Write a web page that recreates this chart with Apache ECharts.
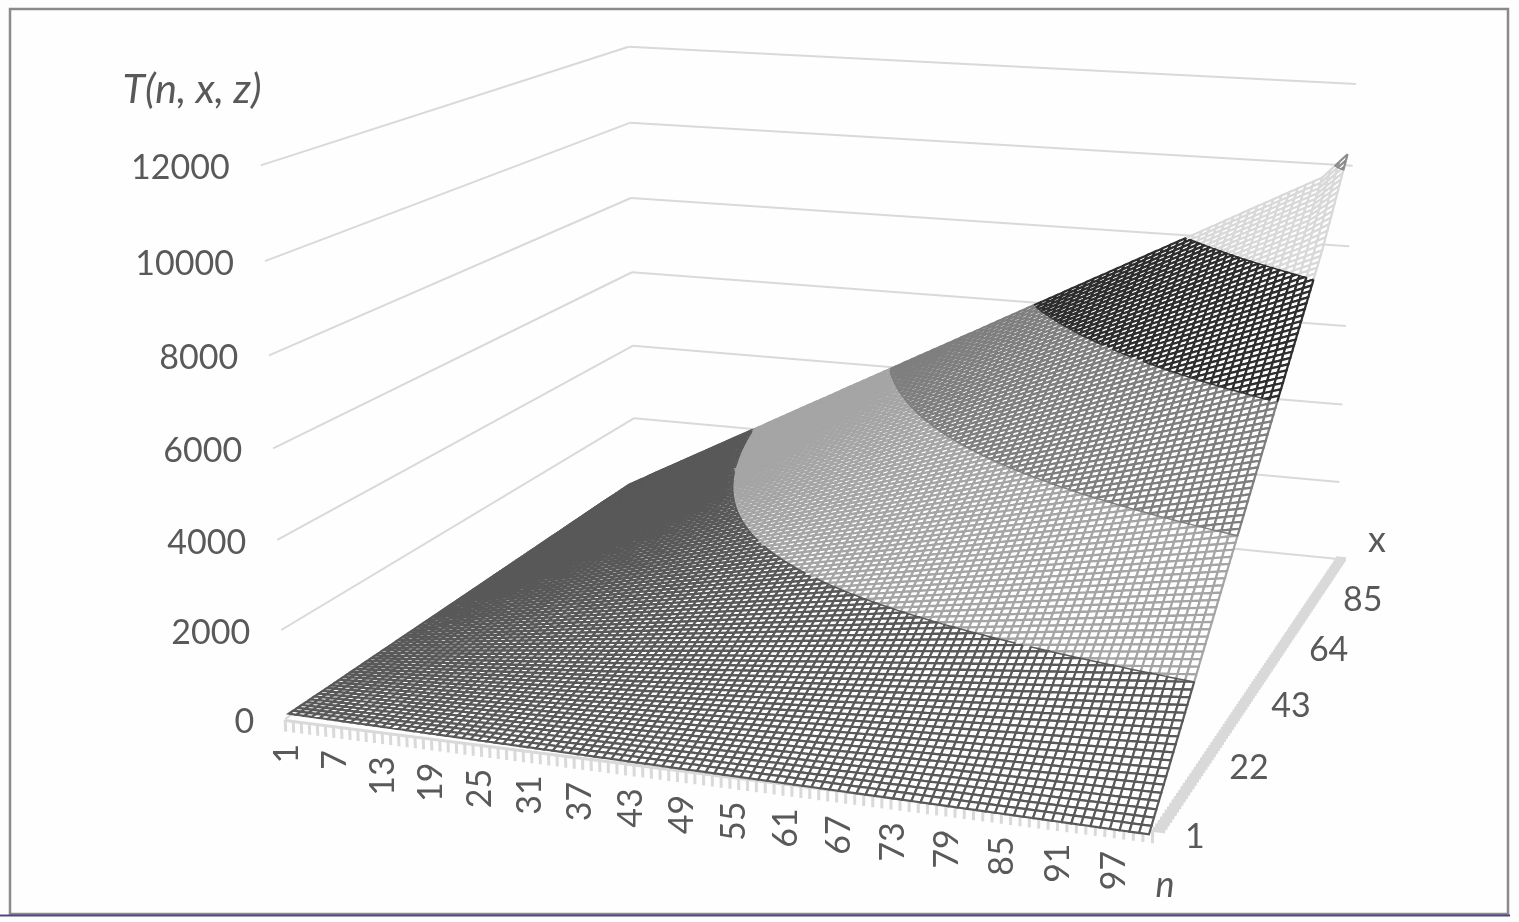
<!DOCTYPE html>
<html><head><meta charset="utf-8">
<style>html,body{margin:0;padding:0;background:#fff}#c{width:1519px;height:922px;filter:blur(.45px)}</style>
<script src="https://cdn.jsdelivr.net/npm/echarts@6/dist/echarts.min.js"></script>
</head><body><div id="c"></div>
<script>
// ---------- data ----------
const nTicks = [1,7,13,19,25,31,37,43,49,55,61,67,73,79,85,91,97,100];
const nLabels = ['1','7','13','19','25','31','37','43','49','55','61','67','73','79','85','91','97'];
const xTicks = [1,22,43,64,85,100];
const xLabels = ['1','22','43','64','85'];
const tTicks = [0,2000,4000,6000,8000,10000,12000];
const tAt1   = [1,7,13,19,25,31,37,43,49,55,61,67,73,79,85,91,97,100];
const tAt22  = [22,154,286,418,550,682,814,946,1078,1210,1342,1474,1606,1738,1870,2002,2134,2200];
const tAt43  = [43,301,559,817,1075,1333,1591,1849,2107,2365,2623,2881,3139,3397,3655,3913,4171,4300];
const tAt64  = [64,448,832,1216,1600,1984,2368,2752,3136,3520,3904,4288,4672,5056,5440,5824,6208,6400];
const tAt85  = [85,595,1105,1615,2125,2635,3145,3655,4165,4675,5185,5695,6205,6715,7225,7735,8245,8500];
const tAt100 = [100,700,1300,1900,2500,3100,3700,4300,4900,5500,6100,6700,7300,7900,8500,9100,9700,10300];
const surfaceRows = [tAt1,tAt22,tAt43,tAt64,tAt85,tAt100];
// ---------- view set-up (camera calibration, styles) ----------
const wallView = [[1,1,12000,258,165],[1,1,10000,266,262],[1,1,6000,275,448],[1,1,2000,281,630],[1,1,0,285,719],
  [1,100,12000,630,47],[1,100,6000,632,272],[1,100,2000,633,418],
  [100,100,12000,1357,84],[100,100,6000,1344,325],[100,100,2000,1337,484],[100,100,0,1339,558],[100,1,0,1153,829]];
const surfaceView = [[1,1,1,287,717],[100,1,100,1152,825],[1,100,100,632,484],[100,100,10300,1352,153],
  [100,20,2000,1192,682],[100,40,4000,1237,547],[100,60,6000,1280,403],[100,80,8000,1312,285],
  [20,100,2000,750,430],[40,100,4000,887,371],[60,100,6000,1030,303],[80,100,8000,1172,237]];
const bandColors = ['#595959','#a5a5a5','#7f7f7f','#2e2e2e','#d9d9d9','#8c8c8c'];
const levelColors = {2000:'#595959',4000:'#7f7f7f',6000:'#3a3a3a',8000:'#2e2e2e',10000:'#8c8c8c'};
const MESH_W = 2.2;
const FONT = 'Lato, "Open Sans", sans-serif';

function fitView(pts){
  const rows=[],rhs=[];
  pts.forEach(p=>{const X=p[0]/100,Y=p[1]/100,Z=p[2]/10000,U=p[3]/1000,V=p[4]/1000;
    rows.push([X,Y,Z,1,0,0,0,0,-U*X,-U*Y,-U*Z]);rhs.push(U);
    rows.push([0,0,0,0,X,Y,Z,1,-V*X,-V*Y,-V*Z]);rhs.push(V);});
  const m=11,A=[];
  for(let i=0;i<m;i++){A.push(new Array(m+1).fill(0));
    for(let j=0;j<m;j++)rows.forEach(r=>A[i][j]+=r[i]*r[j]);
    rows.forEach((r,k)=>A[i][m]+=r[i]*rhs[k]);
    A[i][i]+=1e-9;}
  for(let i=0;i<m;i++){let b=i;for(let k=i+1;k<m;k++)if(Math.abs(A[k][i])>Math.abs(A[b][i]))b=k;
    [A[i],A[b]]=[A[b],A[i]];
    for(let k=0;k<m;k++)if(k!==i){const f=A[k][i]/A[i][i];for(let j=i;j<=m;j++)A[k][j]-=f*A[i][j];}}
  const q=A.map((r,i)=>r[m]/r[i]);
  return (n,x,t)=>{const X=n/100,Y=x/100,Z=t/10000,w=q[8]*X+q[9]*Y+q[10]*Z+1;
    return [1000*(q[0]*X+q[1]*Y+q[2]*Z+q[3])/w,1000*(q[4]*X+q[5]*Y+q[6]*Z+q[7])/w];};
}
const wall=fitView(wallView), surf=fitView(wallView.concat(surfaceView,surfaceView,surfaceView));
const bandOf=t=>Math.min(5,Math.floor(t/2000));

function surfaceItem(params,api){
  const ci=api.value(0),ri=api.value(1);
  const n0=nTicks[ci],n1=nTicks[ci+1],x0=xTicks[ri],x1=xTicks[ri+1];
  const a=surfaceRows[ri][ci],b=surfaceRows[ri][ci+1],c=surfaceRows[ri+1][ci],d=surfaceRows[ri+1][ci+1];
  const sn=n1-n0,sx=x1-x0,kids=[];
  const h=(i,j)=>{const u=i/sn,v=j/sx;return a*(1-u)*(1-v)+b*u*(1-v)+c*(1-u)*v+d*u*v;};
  const P=(i,j)=>api.coord(surf(n0+i,x0+j,h(i,j)));
  for(let j=sx-1;j>=0;j--)for(let i=0;i<sn;i++){
    const corners=[[i,j],[i+1,j],[i+1,j+1],[i,j+1]];
    const ts=corners.map(k=>h(k[0],k[1]));
    const pts=corners.map(k=>P(k[0],k[1]));
    const lo=Math.min(...ts),hi=Math.max(...ts);
    if(bandOf(lo)===bandOf(hi)){
      kids.push({type:'polygon',shape:{points:pts},style:{fill:'#fff',stroke:bandColors[bandOf(lo)],lineWidth:MESH_W},silent:true});
      continue;
    }
    kids.push({type:'polygon',shape:{points:pts},style:{fill:'#fff'},silent:true});
    const crossings={};
    for(let e=0;e<4;e++){
      const A=corners[e],B=corners[(e+1)%4],ta=ts[e],tb=ts[(e+1)%4];
      const at=f=>{const ii=A[0]+(B[0]-A[0])*f,jj=A[1]+(B[1]-A[1])*f;return api.coord(surf(n0+ii,x0+jj,ta+(tb-ta)*f));};
      const cuts=[0];
      [2000,4000,6000,8000,10000].forEach(L=>{
        if((ta-L)*(tb-L)<0){const f=(L-ta)/(tb-ta);cuts.push(f);(crossings[L]=crossings[L]||[]).push(at(f));}
      });
      cuts.push(1);cuts.sort((p,q)=>p-q);
      for(let s=0;s+1<cuts.length;s++){
        const p=at(cuts[s]),q=at(cuts[s+1]),mid=ta+(tb-ta)*(cuts[s]+cuts[s+1])/2;
        kids.push({type:'line',shape:{x1:p[0],y1:p[1],x2:q[0],y2:q[1]},style:{stroke:bandColors[bandOf(mid)],lineWidth:MESH_W},silent:true});
      }
    }
    Object.keys(crossings).forEach(L=>{const pp=crossings[L];
      if(pp.length===2)kids.push({type:'line',z2:2,shape:{x1:pp[0][0],y1:pp[0][1],x2:pp[1][0],y2:pp[1][1]},style:{stroke:levelColors[L],lineWidth:1.5,lineCap:'round'},silent:true});
    });
  }
  return {type:'group',children:kids};
}
const line=(api,p,q,color,w)=>({type:'line',shape:{x1:api.coord(p)[0],y1:api.coord(p)[1],x2:api.coord(q)[0],y2:api.coord(q)[1]},
  style:{stroke:color,lineWidth:w,lineCap:'butt'},silent:true});
function gridItem(params,api){
  const t=tTicks[api.value(0)];
  return {type:'group',children:[line(api,wall(1,1,t),wall(1,100,t),'#d9d9d9',2),line(api,wall(1,100,t),wall(100,100,t),'#d9d9d9',2)]};
}
function nTickItem(params,api){
  const n=api.value(0);
  return line(api,wall(n,1,-20),wall(n,1,-290),'#d9d9d9',3);
}
function frontBaseItem(params,api){
  return line(api,wall(1,1,-40),wall(100,1,-40),'#d9d9d9',3);
}
function xTickItem(params,api){
  const x=api.value(0);
  return line(api,wall(100,x,0),wall(101.3,x,0),'#d9d9d9',5);
}
const label=(api,pt,dx,dy,text,extra)=>{const c=api.coord(pt);
  return {type:'text',x:c[0]+dx,y:c[1]+dy,silent:true,rotation:extra.rotation||0,
    style:Object.assign({text,fill:'#595959',font:'34px '+FONT,align:'center',verticalAlign:'middle'},extra.style||{})};};
function nLabelItem(params,api){
  const i=api.value(0);
  return label(api,wall(nTicks[i],1,0),2-0.125*(nTicks[i]-1),25,nLabels[i],{rotation:Math.PI/2,style:{align:'right'}});
}
function xLabelItem(params,api){
  const i=api.value(0);
  return label(api,wall(100,xTicks[i],0),i===0?42:49,8,xLabels[i],{});
}
function tLabelItem(params,api){
  const t=tTicks[api.value(0)];
  return label(api,wall(1,1,t),-31,3,String(t),{style:{align:'right'}});
}
const titles=[{text:'T(n, x, z)',pos:[192,90],font:'italic 41px '+FONT},{text:'x',pos:[1377,540],font:'36px '+FONT},{text:'n',pos:[1165,885],font:'italic 36px '+FONT}];
function titleItem(params,api){
  const t=titles[api.value(0)],c=api.coord(t.pos);
  return {type:'text',x:c[0],y:c[1],silent:true,style:{text:t.text,fill:'#595959',font:t.font,align:'center',verticalAlign:'middle'}};
}
const seq=k=>Array.from({length:k},(_,i)=>[i]);
const nUnits=[];for(let n=1;n<=100;n++)nUnits.push([n]);
const surfaceCells=[];for(let r=xTicks.length-2;r>=0;r--)for(let c=0;c<nTicks.length-1;c++)surfaceCells.push([c,r]);
const cust=(name,data,renderItem,z)=>({type:'custom',name,coordinateSystem:'cartesian2d',data,renderItem,z,clip:false,silent:true,animation:false,progressive:0,encode:{x:[],y:[]},dimensions:data[0].length>1?['a','b']:['a']});
const chart=echarts.init(document.getElementById('c'),null,{renderer:'canvas'});
chart.setOption({
  animation:false,backgroundColor:'#fdfdfd',
  grid:{left:0,right:0,top:0,bottom:0,containLabel:false},
  xAxis:{type:'value',min:0,max:1519,show:false},
  yAxis:{type:'value',min:0,max:922,inverse:true,show:false},
  tooltip:{show:false},
  graphic:[{type:'rect',z:0,silent:true,shape:{x:10,y:9,width:1498,height:905},style:{fill:'#fefefe',stroke:'#8a8a8a',lineWidth:2.5}},
    {type:'line',silent:true,z:0,shape:{x1:0,y1:915.5,x2:1510,y2:915.5},style:{stroke:'#4a4a80',lineWidth:2}}],
  series:[
    cust('walls',seq(tTicks.length),gridItem,1),
    cust('nTicks',nUnits,nTickItem,2),
    cust('frontBase',seq(1),frontBaseItem,2),
    cust('xTicks',nUnits,xTickItem,2),
    cust('surface',surfaceCells,surfaceItem,3),
    cust('nLabels',seq(nLabels.length),nLabelItem,4),
    cust('xLabels',seq(xLabels.length),xLabelItem,4),
    cust('tLabels',seq(tTicks.length),tLabelItem,4),
    cust('titles',seq(titles.length),titleItem,4)
  ]
});
</script></body></html>
